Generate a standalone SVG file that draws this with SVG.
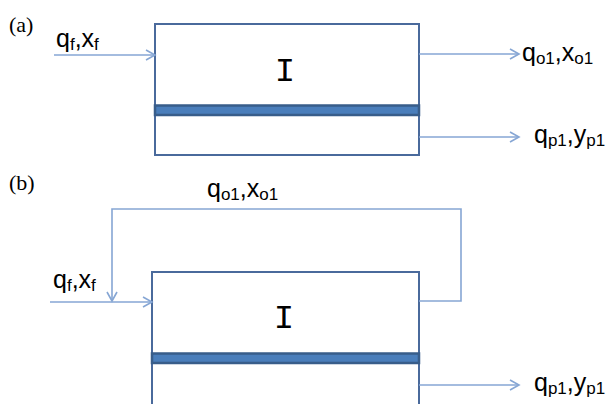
<svg xmlns="http://www.w3.org/2000/svg" width="607" height="404" viewBox="0 0 607 404">
<style>
.box{fill:#fff;stroke:#4a6a9c;stroke-width:2}
.mem{fill:#4a7ebb;stroke:#385d8a;stroke-width:2.5}
.flow{fill:none;stroke:#86a6d4;stroke-width:1.6}
.lbl{font-family:"Liberation Sans",Arial,sans-serif;font-size:25px;fill:#000}
.sub{font-size:17px}
.pl{font-family:"Liberation Serif","Times New Roman",serif;font-size:22px;fill:#000}
.I{font-family:"Liberation Mono","Courier New",monospace;font-size:34px;fill:#000}
</style>
<defs>
<marker id="arr" markerWidth="12" markerHeight="12" refX="10" refY="6" orient="auto" markerUnits="userSpaceOnUse">
<path d="M1,1 L10,6 L1,11" fill="none" stroke="#86a6d4" stroke-width="1.6"/>
</marker>
</defs>
<text class="pl" x="9" y="32">(a)</text>
<text class="pl" x="9" y="190">(b)</text>
<g id="moduleA">
<rect class="box" x="155" y="24" width="264" height="131"/>
<rect class="mem" x="155" y="105.5" width="264" height="9.5"/>
<text class="I" x="285" y="81" text-anchor="middle">I</text>
</g>
<g id="moduleB">
<rect class="box" x="152" y="272" width="267" height="134"/>
<rect class="mem" x="152" y="353.5" width="267" height="9.5"/>
<text class="I" x="284" y="328" text-anchor="middle">I</text>
</g>
<g id="connectors">
<line class="flow" x1="54" y1="55" x2="155" y2="55" marker-end="url(#arr)"/>
<line class="flow" x1="419" y1="54" x2="519" y2="54" marker-end="url(#arr)"/>
<line class="flow" x1="419" y1="137" x2="519" y2="137" marker-end="url(#arr)"/>
<line class="flow" x1="50" y1="302" x2="152" y2="302" marker-end="url(#arr)"/>
<polyline class="flow" points="419,301 461,301 461,209 112,209 112,301" marker-end="url(#arr)"/>
<line class="flow" x1="419" y1="385" x2="519" y2="385" marker-end="url(#arr)"/>
</g>
<g id="labels">
<text class="lbl" x="56" y="47">q<tspan class="sub" dy="3">f</tspan><tspan dy="-3">,x</tspan><tspan class="sub" dy="3">f</tspan></text>
<text class="lbl" x="522" y="61">q<tspan class="sub" dy="3">o1</tspan><tspan dy="-3">,x</tspan><tspan class="sub" dy="3">o1</tspan></text>
<text class="lbl" x="534" y="143">q<tspan class="sub" dy="3">p1</tspan><tspan dy="-3">,y</tspan><tspan class="sub" dy="3">p1</tspan></text>
<text class="lbl" x="207" y="197">q<tspan class="sub" dy="3">o1</tspan><tspan dy="-3">,x</tspan><tspan class="sub" dy="3">o1</tspan></text>
<text class="lbl" x="53" y="288">q<tspan class="sub" dy="3">f</tspan><tspan dy="-3">,x</tspan><tspan class="sub" dy="3">f</tspan></text>
<text class="lbl" x="534" y="391">q<tspan class="sub" dy="3">p1</tspan><tspan dy="-3">,y</tspan><tspan class="sub" dy="3">p1</tspan></text>
</g>
</svg>
